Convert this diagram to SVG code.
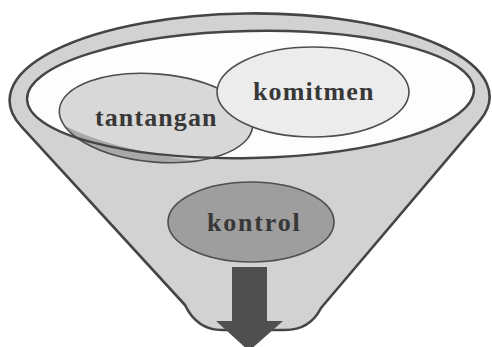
<svg xmlns="http://www.w3.org/2000/svg" width="492" height="347" viewBox="0 0 492 347">
<style>
.lbl{font-family:"Liberation Serif","Times New Roman",serif;font-weight:bold;font-size:26px;fill:#383838}
.edge{stroke:#454545;stroke-width:2.4;fill:none}
.thin{stroke:#4e4e4e;stroke-width:1.6}
</style>
<defs>
<clipPath id="inner"><ellipse cx="250.5" cy="94.5" rx="223.5" ry="63.5" transform="rotate(-1.2 250.5 94.5)"/></clipPath>
</defs>
<rect width="492" height="347" fill="#ffffff"/>
<g id="funnel">
<path d="M21.7,126.8 L185,305 Q197,330 222,330 L285,330 Q310,330 321,308 L479.9,120.6 A240,85 -0.5 1 0 21.7,126.8 Z" fill="#d2d2d2" stroke="#454545" stroke-width="2.6" stroke-linejoin="round"/>
<ellipse cx="250.5" cy="94.5" rx="223.5" ry="63.5" transform="rotate(-1.2 250.5 94.5)" fill="#fdfdfd"/>
</g>
<g id="tantangan">
<ellipse cx="156" cy="118" rx="97" ry="44" transform="rotate(5 156 118)" fill="#a9a9a9"/>
<ellipse cx="156" cy="118" rx="97" ry="44" transform="rotate(5 156 118)" fill="#d8d8d8" clip-path="url(#inner)"/>
<ellipse cx="156" cy="118" rx="97" ry="44" transform="rotate(5 156 118)" fill="none" class="thin"/>
<text class="lbl" x="95" y="126" letter-spacing="1.1">tantangan</text>
</g>
<g id="rim">
<ellipse cx="250.5" cy="94.5" rx="223.5" ry="63.5" transform="rotate(-1.2 250.5 94.5)" class="edge"/>
</g>
<g id="komitmen">
<ellipse cx="313" cy="92" rx="96" ry="45" fill="#ececec" class="thin"/>
<text class="lbl" x="253" y="100" letter-spacing="1.1">komitmen</text>
</g>
<g id="kontrol">
<ellipse cx="251" cy="222" rx="83" ry="40" fill="#9e9e9e" class="thin"/>
<text class="lbl" x="207" y="231" letter-spacing="1.8">kontrol</text>
</g>
<g id="connectors">
<polygon points="232,267 267,267 267,321 283,321 249,351 216,321 232,321" fill="#4f4f4f"/>
</g>
</svg>
